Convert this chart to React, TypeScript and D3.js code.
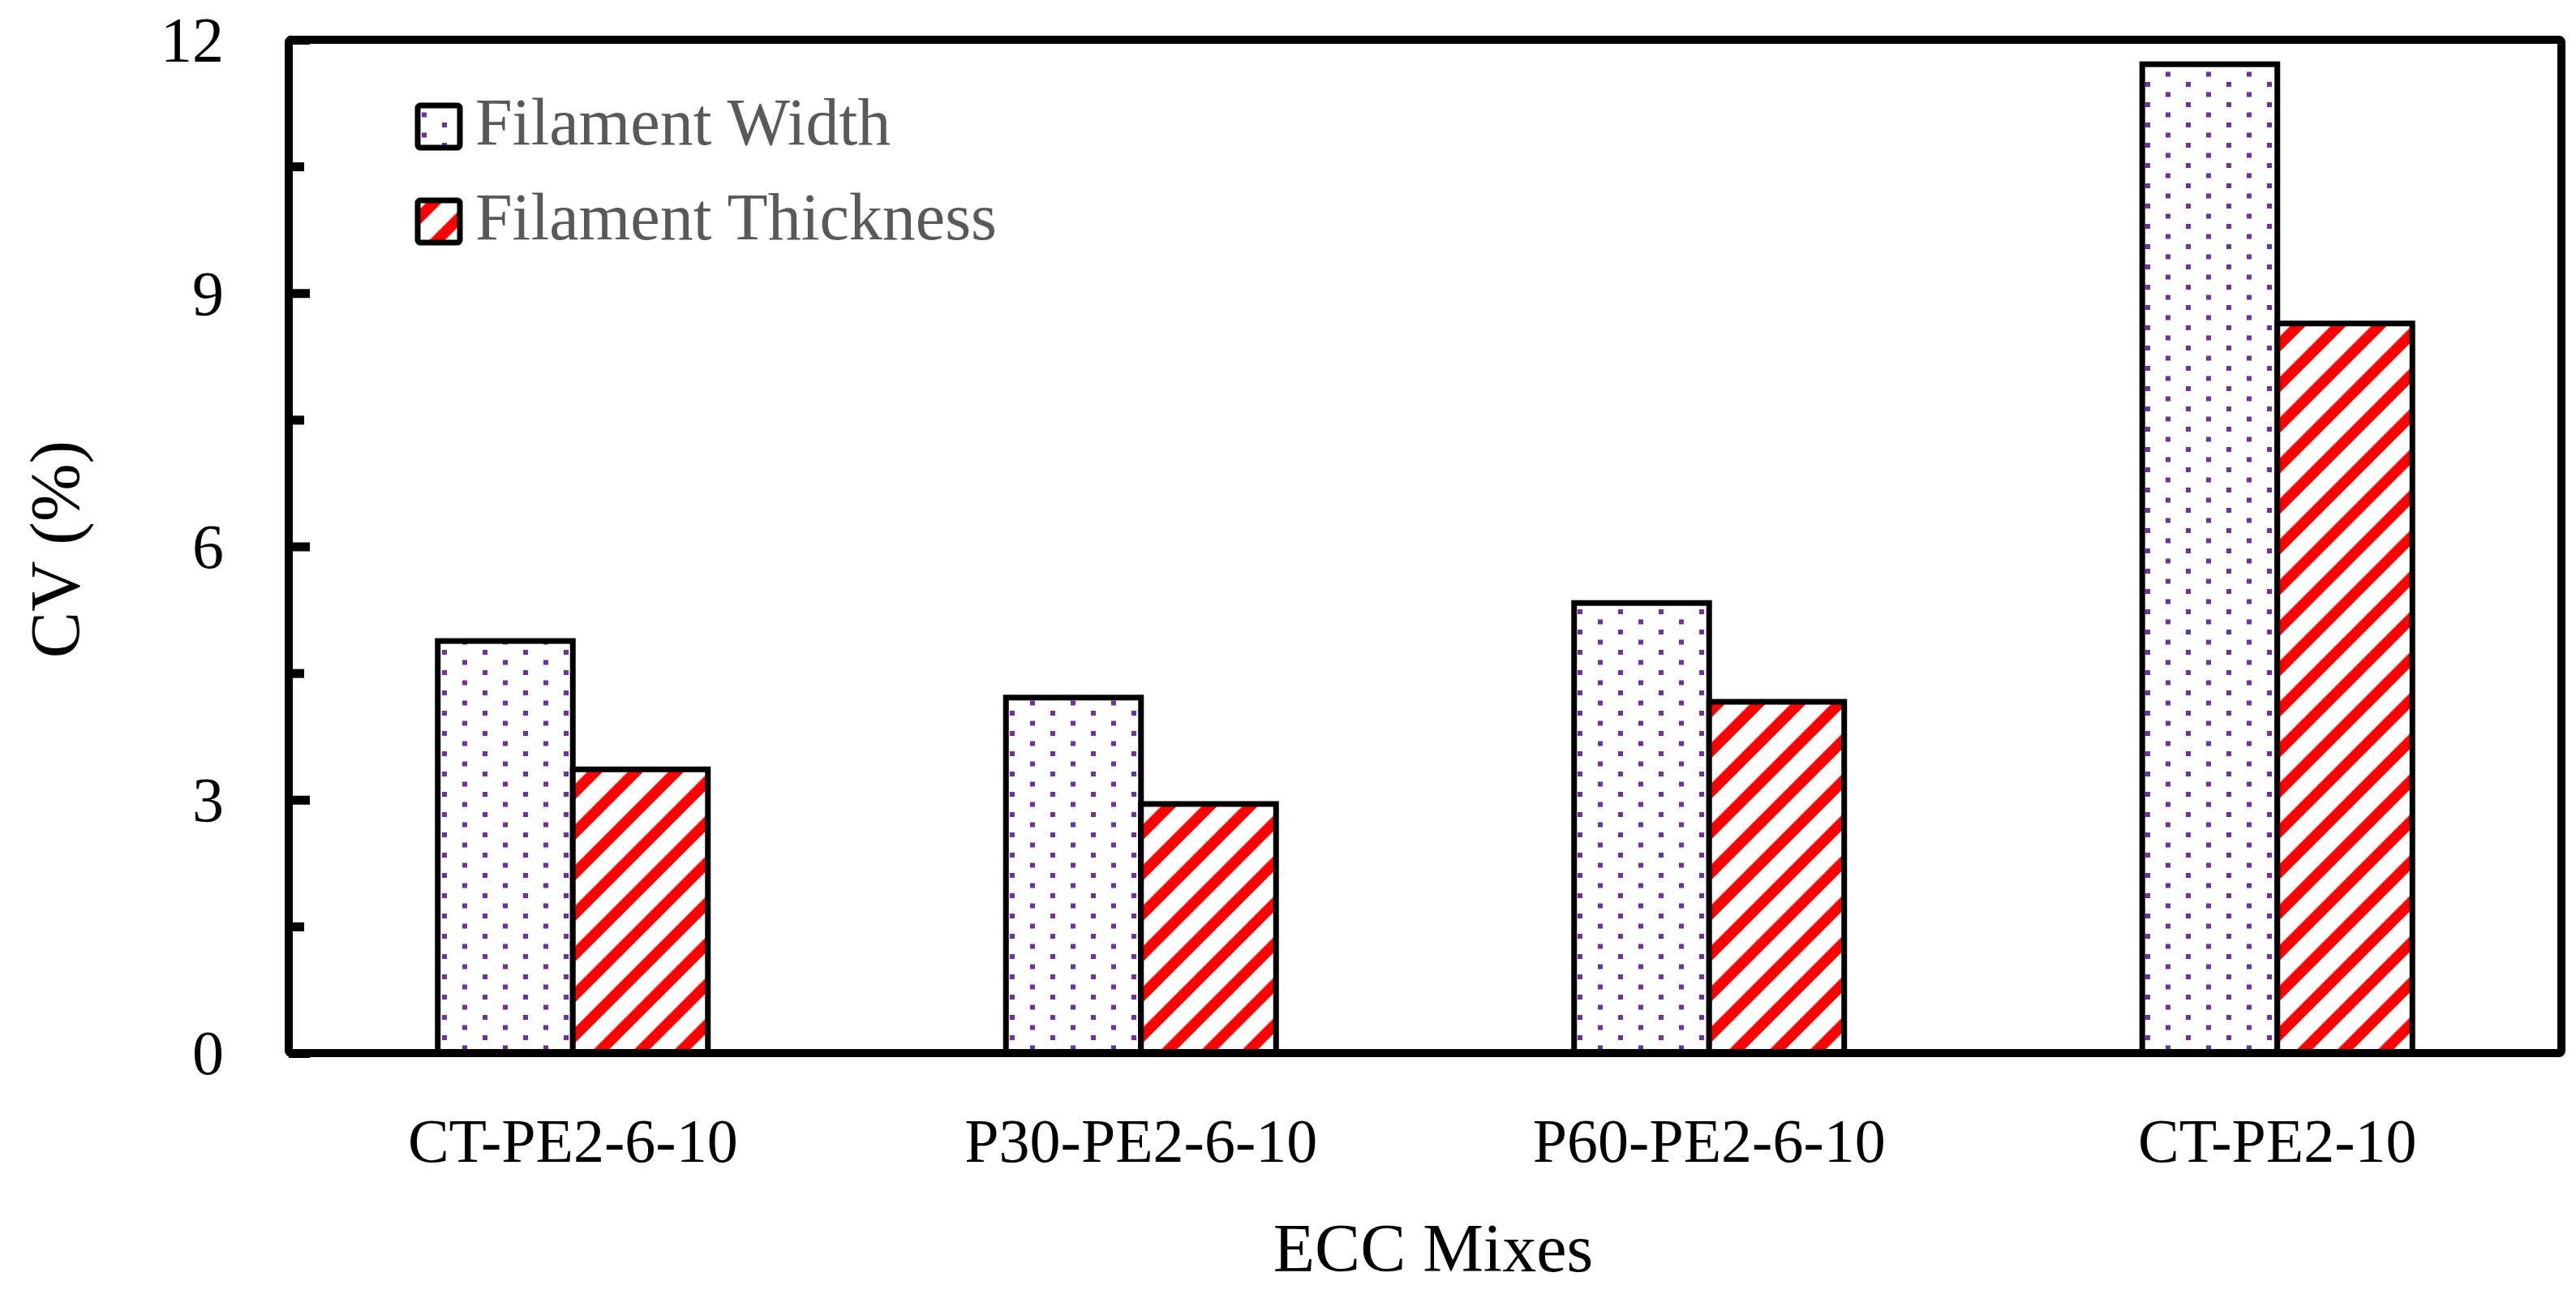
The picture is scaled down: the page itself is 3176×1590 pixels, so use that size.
import React, { useEffect, useRef } from 'react';
import * as d3 from 'd3';

const categories = ['CT-PE2-6-10', 'P30-PE2-6-10', 'P60-PE2-6-10', 'CT-PE2-10'];
const seriesNames = ['Filament Width', 'Filament Thickness'];
const widthCV = [4.88, 4.21, 5.33, 11.71];
const thicknessCV = [3.36, 2.95, 4.16, 8.64];
const majorTicks = [0, 3, 6, 9, 12];
const minorTicks = [1.5, 4.5, 7.5, 10.5];

const FONT = '"Liberation Serif", "Times New Roman", serif';

export default function App() {
  const svgRef = useRef<SVGSVGElement>(null);

  useEffect(() => {
    if (!svgRef.current) return;
    const W = 3176;
    const H = 1590;
    const left = 356, right = 3158, top = 49, bottom = 1298;

    const svg = d3.select(svgRef.current);
    svg.selectAll('*').remove();
    svg.attr('width', W).attr('height', H);

    svg.append('rect').attr('width', W).attr('height', H).attr('fill', '#fff');

    // fill patterns
    const defs = svg.append('defs');
    const dots = defs.append('pattern')
      .attr('id', 'dots')
      .attr('patternUnits', 'userSpaceOnUse')
      .attr('x', 545).attr('y', 801)
      .attr('width', 50).attr('height', 25);
    dots.append('rect').attr('width', 50).attr('height', 25).attr('fill', '#fff');
    dots.append('rect').attr('x', 0).attr('y', 0).attr('width', 6).attr('height', 6).attr('fill', '#7030A0');
    dots.append('rect').attr('x', 25).attr('y', 12.5).attr('width', 6).attr('height', 6).attr('fill', '#7030A0');

    const P = 50 / Math.SQRT2;
    const stripes = defs.append('pattern')
      .attr('id', 'stripes')
      .attr('patternUnits', 'userSpaceOnUse')
      .attr('width', P).attr('height', P)
      .attr('patternTransform', 'rotate(45)');
    stripes.append('rect').attr('width', P).attr('height', P).attr('fill', '#fff');
    stripes.append('rect').attr('x', 18).attr('y', 0).attr('width', 13.4).attr('height', P).attr('fill', '#FF0000');

    const fills = ['url(#dots)', 'url(#stripes)'];

    const y = d3.scaleLinear().domain([0, 12]).range([bottom, top]);
    const x0 = d3.scaleBand<string>().domain(categories).range([left, right]);
    const bw = x0.bandwidth();
    const x1 = d3.scaleBand<string>().domain(seriesNames).range([bw * 0.2623, bw * 0.7377]);

    const rows = categories.map((c, i) => ({ c, vals: [widthCV[i], thicknessCV[i]] }));

    const g = svg.append('g');
    rows.forEach(r => {
      r.vals.forEach((v, j) => {
        g.append('rect')
          .attr('x', (x0(r.c) ?? 0) + (x1(seriesNames[j]) ?? 0))
          .attr('y', y(v))
          .attr('width', x1.bandwidth())
          .attr('height', y(0) - y(v))
          .attr('fill', fills[j])
          .attr('stroke', '#000')
          .attr('stroke-width', 7);
      });
    });

    // frame
    svg.append('rect')
      .attr('x', left).attr('y', top)
      .attr('width', right - left).attr('height', bottom - top)
      .attr('fill', 'none').attr('stroke', '#000').attr('stroke-width', 10)
      .attr('rx', 3);

    // y axis
    const yAxis = svg.append('g')
      .attr('transform', `translate(${left},0)`)
      .call(d3.axisLeft(y).tickValues(majorTicks).tickSize(-26).tickPadding(80).tickFormat(d3.format('d')));
    yAxis.select('.domain').remove();
    yAxis.selectAll('line').attr('stroke', '#000').attr('stroke-width', 11);
    yAxis.selectAll('text')
      .attr('font-family', FONT).attr('font-size', 78).attr('fill', '#000').attr('dy', '0.33em');

    const yMinor = svg.append('g')
      .attr('transform', `translate(${left},0)`)
      .call(d3.axisLeft(y).tickValues(minorTicks).tickSize(-19).tickFormat(() => ''));
    yMinor.select('.domain').remove();
    yMinor.selectAll('line').attr('stroke', '#000').attr('stroke-width', 11);

    // x axis
    const xAxis = svg.append('g')
      .attr('transform', `translate(0,${bottom})`)
      .call(d3.axisBottom(x0).tickSize(0).tickPadding(80));
    xAxis.select('.domain').remove();
    xAxis.selectAll('text')
      .attr('font-family', FONT).attr('font-size', 76).attr('fill', '#000');

    // axis titles
    svg.append('text')
      .attr('transform', `translate(97,677) rotate(-90)`)
      .attr('text-anchor', 'middle')
      .attr('font-family', FONT).attr('font-size', 86)
      .text('CV (%)');
    svg.append('text')
      .attr('x', (left + right) / 2 + 10).attr('y', 1567)
      .attr('text-anchor', 'middle')
      .attr('font-family', FONT).attr('font-size', 84)
      .text('ECC Mixes');

    // legend
    const legend = svg.append('g');
    seriesNames.forEach((s, i) => {
      const ly = 130 + i * 117;
      legend.append('rect')
        .attr('x', 515).attr('y', ly).attr('width', 52).attr('height', 52)
        .attr('rx', 3)
        .attr('fill', fills[i]).attr('stroke', '#000').attr('stroke-width', 7);
      legend.append('text')
        .attr('x', 586).attr('y', ly + 48)
        .attr('font-family', FONT).attr('font-size', 82)
        .attr('fill', '#595959')
        .text(s);
    });
  }, []);

  return (
    <div style={{ position: 'absolute', left: 0, top: 0 }}>
      <svg ref={svgRef}></svg>
    </div>
  );
}
